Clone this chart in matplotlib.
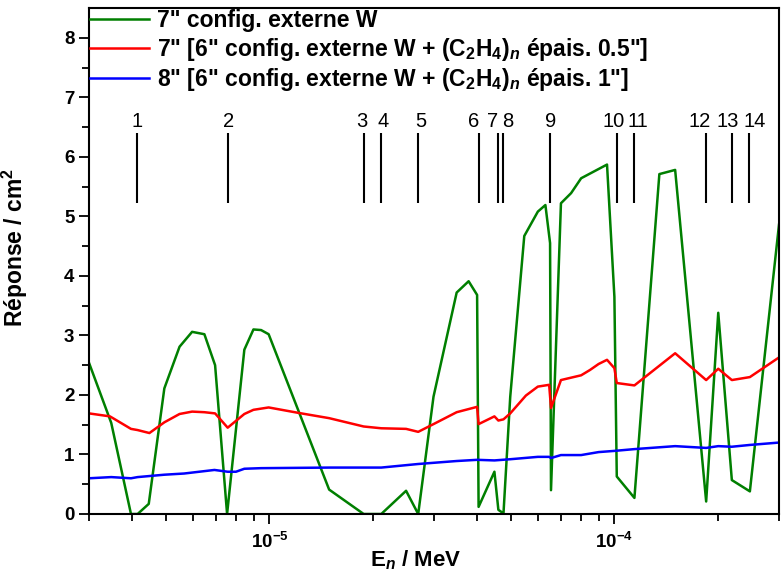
import numpy as np
from matplotlib import pyplot as plt

plt.rcParams['font.family']=['Liberation Sans','DejaVu Sans']
plt.rcParams['font.weight']='bold'
plt.rcParams['axes.labelweight']='bold'
plt.rcParams['mathtext.fontset']='custom'
plt.rcParams['mathtext.rm']='Liberation Sans:bold'
plt.rcParams['mathtext.bf']='Liberation Sans:bold'
plt.rcParams['mathtext.it']='Liberation Sans:bold:italic'

# 7" config. externe W
e_w=[3.0e-6,3.48e-6,3.97e-6,4.15e-6,4.47e-6,4.96e-6,5.49e-6,5.97e-6,6.48e-6,6.96e-6,
     7.54e-6,8.46e-6,8.99e-6,9.46e-6,9.95e-6,1.49e-5,1.876e-5,2.11e-5,2.49e-5,2.70e-5,
     2.99e-5,3.49e-5,3.78e-5,4.0e-5,4.04e-5,4.49e-5,4.61e-5,4.77e-5,4.99e-5,5.48e-5,
     6.0e-5,6.31e-5,6.51e-5,6.55e-5,7.0e-5,7.49e-5,8.01e-5,9.52e-5,1.0e-4,1.016e-4,
     1.143e-4,1.35e-4,1.50e-4,1.845e-4,2.0e-4,2.19e-4,2.47e-4,3.0e-4]
r_w=[2.54,1.53,0.0,0.0,0.17,2.11,2.81,3.06,3.02,2.50,
     0.0,2.76,3.10,3.09,3.02,0.41,0.0,0.0,0.39,0.0,
     1.97,3.72,3.91,3.68,0.12,0.71,0.07,0.01,1.97,4.67,
     5.08,5.19,4.55,0.40,5.22,5.39,5.64,5.87,3.65,0.63,
     0.27,5.71,5.78,0.21,3.38,0.57,0.38,4.86]

# 7" [6" W + PE 0.5"]
e_pe05=[3.0e-6,3.45e-6,3.97e-6,4.15e-6,4.49e-6,4.96e-6,5.49e-6,5.97e-6,6.48e-6,6.96e-6,
        7.57e-6,8.46e-6,8.99e-6,9.95e-6,1.21e-5,1.49e-5,1.876e-5,2.11e-5,2.49e-5,2.70e-5,
        2.99e-5,3.49e-5,4.0e-5,4.04e-5,4.49e-5,4.61e-5,4.77e-5,4.99e-5,5.54e-5,6.0e-5,
        6.47e-5,6.55e-5,7.0e-5,8.01e-5,8.5e-5,9.0e-5,9.52e-5,1.0e-4,1.016e-4,1.143e-4,
        1.50e-4,1.845e-4,2.0e-4,2.19e-4,2.47e-4,3.0e-4]
r_pe05=[1.69,1.64,1.43,1.41,1.36,1.54,1.68,1.72,1.71,1.69,
        1.45,1.68,1.75,1.79,1.70,1.61,1.47,1.44,1.43,1.38,
        1.51,1.71,1.80,1.51,1.64,1.57,1.59,1.69,1.99,2.14,
        2.17,1.78,2.25,2.33,2.42,2.52,2.59,2.45,2.20,2.16,
        2.70,2.25,2.44,2.25,2.30,2.63]

# 8" [6" W + PE 1"]
e_pe1=[3.0e-6,3.48e-6,3.97e-6,4.15e-6,4.96e-6,5.66e-6,6.93e-6,7.57e-6,8.0e-6,8.46e-6,
       9.46e-6,1.5e-5,2.11e-5,2.70e-5,3.49e-5,4.0e-5,4.49e-5,4.99e-5,6.0e-5,6.47e-5,
       6.55e-5,7.0e-5,8.01e-5,9.0e-5,1.0e-4,1.143e-4,1.50e-4,1.845e-4,2.0e-4,2.19e-4,
       2.47e-4,3.0e-4]
r_pe1=[0.60,0.62,0.60,0.62,0.66,0.68,0.74,0.71,0.71,0.76,
       0.77,0.78,0.78,0.84,0.89,0.91,0.90,0.92,0.96,0.96,
       0.94,0.99,0.99,1.04,1.06,1.09,1.14,1.11,1.14,1.13,
       1.16,1.20]

# resonances W
res_e=[4.136e-6,7.60e-6,1.876e-5,2.107e-5,2.703e-5,4.045e-5,4.59e-5,4.77e-5,
       6.525e-5,1.016e-4,1.143e-4,1.845e-4,2.194e-4,2.46e-4]
res_lab=[str(i) for i in range(1,15)]
res_y0=5.23
res_y1=6.40

labels=['7" config. externe W',
        '7" [6" config. externe W + (C$_2$H$_4$)$_n$ épais. 0.5"]',
        '8" [6" config. externe W + (C$_2$H$_4$)$_n$ épais. 1"]']

fig=plt.figure(figsize=(7.83,5.73),dpi=100)
ax=fig.add_axes([89/783,1-514/573,690/783,506/573])

ax.plot(e_w,r_w,color='#007f00',lw=1.8,label=labels[0])
ax.plot(e_pe05,r_pe05,color='#ff0000',lw=1.8,label=labels[1])
ax.plot(e_pe1,r_pe1,color='#0000ff',lw=1.8,label=labels[2])

nudge={3:-2,4:2,5:2,6:-5,7:-5,8:4,10:-3,11:3,12:-7,13:-4,14:5}   # pixels, labels pushed apart
ax.vlines(res_e,res_y0,res_y1,color='black',lw=1.5)
for i,(e,l) in enumerate(zip(res_e,res_lab)):
    ax.annotate(l,(e,res_y1),xytext=(nudge.get(i+1,0)*0.72,1.5),textcoords='offset points',
                ha='center',va='bottom',fontsize=14.5,fontweight='normal')

ax.set_xscale('log')
ax.set_xlim(3e-6,3e-4)
ax.set_ylim(0,8.5)
ax.set_xticks([1e-5,1e-4],labels=['10$^{-5}$','10$^{-4}$'])
ax.set_yticks(range(0,9))
ax.set_yticks(np.arange(0.5,8.5,1.0),minor=True)
ax.tick_params(axis='both',which='major',labelsize=13.5,width=1.3,length=7,direction='out')
ax.tick_params(axis='both',which='minor',width=1.3,length=5,direction='out')
ax.tick_params(axis='x',which='major',pad=6)
for s in ax.spines.values():
    s.set_linewidth(1.5)

ax.set_xlabel('E$_n$ / MeV',fontsize=16)
ax.xaxis.set_label_coords(0.474,-0.068)
ax.set_ylabel('Réponse / cm$^2$',fontsize=16.5)
ax.yaxis.set_label_coords(-0.085,0.527)

ax.legend(loc='upper left',bbox_to_anchor=(0,1.0),frameon=False,fontsize=16.5,
          borderpad=0.05,borderaxespad=0,handlelength=2.55,handletextpad=0.35,labelspacing=0.15)

fig.savefig('out.png',dpi=100)
